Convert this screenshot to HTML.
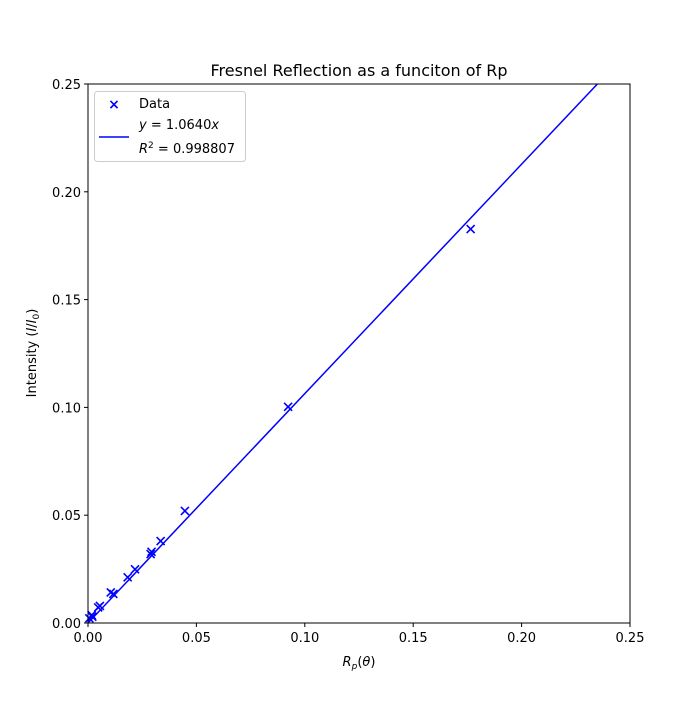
<!DOCTYPE html>
<html><head><meta charset="utf-8"><style>
body{margin:0;background:#fff;}
svg text{font-family:"DejaVu Sans","Liberation Sans",sans-serif;}
</style></head><body>
<svg id="chart" width="700" height="700" xmlns="http://www.w3.org/2000/svg">
<rect width="700" height="700" fill="#fff"/>
<text x="359" y="76" font-size="16" text-anchor="middle">Fresnel Reflection as a funciton of Rp</text>
<g id="plot"></g>
<text x="359" y="666" font-size="13" text-anchor="middle" font-style="italic">R<tspan font-size="9" dy="3">p</tspan><tspan dy="-3" font-style="normal">(</tspan>θ<tspan font-style="normal">)</tspan></text>
<text transform="translate(36,353) rotate(-90)" font-size="13" text-anchor="middle">Intensity (<tspan font-style="italic">I</tspan>/<tspan font-style="italic">I</tspan><tspan font-size="9" dy="3">0</tspan><tspan dy="-3">)</tspan></text>
<g>
<rect x="94.5" y="91.5" width="151" height="70" rx="3" fill="#fff" stroke="#ccc"/>
<text x="114" y="109" font-size="14" fill="#00f" text-anchor="middle" font-weight="bold">×</text>
<text x="139" y="108" font-size="13">Data</text>
<line x1="99" y1="137" x2="129" y2="137" stroke="#00f" stroke-width="1.5"/>
<text x="139" y="129" font-size="13"><tspan font-style="italic">y</tspan> = 1.0640<tspan font-style="italic">x</tspan></text>
<text x="139" y="153" font-size="13"><tspan font-style="italic">R</tspan><tspan font-size="9" dy="-5">2</tspan><tspan dy="5"> = 0.998807</tspan></text>
</g>
</svg>
<script>
const xTicks=[0,0.05,0.1,0.15,0.2,0.25];
const yTicks=[0,0.05,0.1,0.15,0.2,0.25];
const xTickLabels=["0.00","0.05","0.10","0.15","0.20","0.25"];
const yTickLabels=["0.00","0.05","0.10","0.15","0.20","0.25"];
const dataX=[0.0006,0.0017,0.002,0.0047,0.0055,0.0105,0.0117,0.0183,0.0217,0.0289,0.0293,0.0335,0.0447,0.0923,0.1765];
const dataY=[0.0022,0.0037,0.0029,0.0072,0.0079,0.0142,0.0135,0.0212,0.0249,0.032,0.033,0.038,0.052,0.1003,0.1827];
const slope=[1.0640];
const L=88,R=630,T=84,B=623,xmax=0.25,ymax=0.25;
const sx=v=>L+v/xmax*(R-L), sy=v=>B-v/ymax*(B-T);
const NS="http://www.w3.org/2000/svg";
const g=document.getElementById('plot');
function mk(t,a){const e=document.createElementNS(NS,t);for(const k in a)e.setAttribute(k,a[k]);g.appendChild(e);return e;}
xTicks.forEach((v,i)=>{
 const l=mk('line',{x1:sx(v),x2:sx(v),y1:B,y2:B+4,stroke:'#000'});
 
 
 const t=mk('text',{x:sx(v),y:B+19,'font-size':13,'text-anchor':'middle'});t.textContent=xTickLabels[i];
 
 
});
yTicks.forEach((v,i)=>{
 const l=mk('line',{x1:L-4,x2:L,y1:sy(v),y2:sy(v),stroke:'#000'});
 
 
 const t=mk('text',{x:L-7,y:sy(v)+5,'font-size':13,'text-anchor':'end'});t.textContent=yTickLabels[i];
 
 
});
const xe=Math.min(xmax,ymax/slope[0]);
const fl=mk('line',{x1:sx(0),y1:sy(0),x2:sx(xe),y2:sy(slope[0]*xe),stroke:'#00f','stroke-width':1.5});


dataX.forEach((x,i)=>{
 const cx=sx(x),cy=sy(dataY[i]),s=4;
 const p=mk('path',{d:`M${cx-s},${cy-s}L${cx+s},${cy+s}M${cx-s},${cy+s}L${cx+s},${cy-s}`,stroke:'#00f','stroke-width':1.6});
 
 
});
const fr=mk('rect',{x:L,y:T,width:R-L,height:B-T,fill:'none',stroke:'#000','stroke-width':1});


</script>
</body></html>
